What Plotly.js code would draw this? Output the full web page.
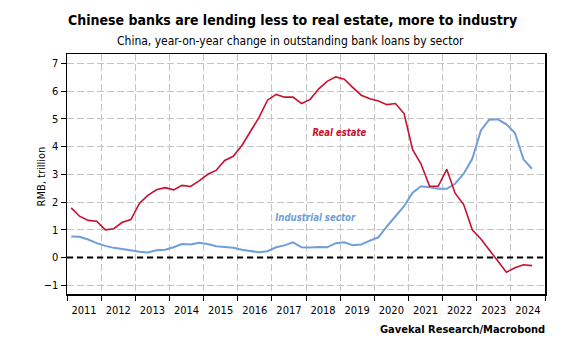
<!DOCTYPE html>
<html>
<head>
<meta charset="utf-8">
<script src="https://cdn.plot.ly/plotly-3.0.1.min.js"></script>
<style>html,body{margin:0;padding:0;background:#fff;}#chart{width:585px;height:360px;}</style>
</head>
<body>
<div id="chart"></div>
<script>
// Quarterly data, Q1 2011 .. Q3 2024 (RMB trillion, y/y change)
const firstYear = 2011;
const realEstate = [1.79,1.49,1.34,1.31,1.00,1.04,1.27,1.37,1.96,2.24,2.44,2.52,2.44,2.60,2.56,2.76,
  3.00,3.14,3.50,3.65,4.04,4.55,5.04,5.67,5.88,5.78,5.78,5.55,5.70,6.07,6.35,6.51,6.43,6.13,5.85,5.72,
  5.64,5.51,5.55,5.19,3.89,3.38,2.57,2.57,3.18,2.32,1.91,1.00,0.67,0.28,-0.11,-0.53,-0.37,-0.26,-0.29];
const industrial = [0.76,0.75,0.65,0.52,0.42,0.35,0.31,0.25,0.21,0.18,0.26,0.28,0.37,0.49,0.47,0.53,
  0.49,0.41,0.39,0.35,0.28,0.23,0.19,0.23,0.37,0.44,0.55,0.37,0.36,0.38,0.37,0.52,0.55,0.44,0.47,0.61,
  0.73,1.12,1.49,1.85,2.34,2.57,2.53,2.48,2.48,2.66,3.02,3.56,4.58,4.97,4.98,4.80,4.49,3.54,3.20];
const midQuarter = ["02-15","05-15","08-15","11-15"];
const dates = realEstate.map((_, i) => (firstYear + Math.floor(i / 4)) + "-" + midQuarter[i % 4]);

const FONT = "DejaVu Sans Condensed, Liberation Sans Narrow, Arial Narrow, sans-serif";
const RED = "#c8102e", BLUE = "#6f9fd8";

const traces = [
  {x: dates, y: industrial, type: "scatter", mode: "lines", line: {color: BLUE, width: 2}, hoverinfo: "none"},
  {x: dates, y: realEstate, type: "scatter", mode: "lines", line: {color: RED, width: 1.6}, hoverinfo: "none"}
];

const PL = 67, PW = 478; // plot left and width in px
const pageX = px => (px - PL) / PW;

const layout = {
  width: 585, height: 360,
  margin: {l: 67, r: 40, t: 54, b: 66},
  paper_bgcolor: "#fff", plot_bgcolor: "#fff",
  showlegend: false,
  font: {family: FONT, color: "#000", size: 11},
  xaxis: {
    type: "date", range: ["2011-01-01", "2025-01-01"],
    dtick: "M12", tick0: "2011-01-01", tickformat: "%Y", ticklabelmode: "period",
    ticks: "outside", ticklen: 5, tickcolor: "#000", tickwidth: 1,
    showline: true, linecolor: "#000", linewidth: 1.5, mirror: true,
    showgrid: true, gridcolor: "#c4c4c4", griddash: "7px,3px", gridwidth: 1,
    zeroline: false, tickfont: {size: 11, family: FONT}, fixedrange: true
  },
  yaxis: {
    range: [-1.313, 7.335], dtick: 1, tick0: 0,
    ticks: "outside", ticklen: 5, tickcolor: "#000",
    showline: true, linecolor: "#000", linewidth: 1.5, mirror: true,
    showgrid: true, gridcolor: "#c4c4c4", griddash: "7px,3px", gridwidth: 1,
    zeroline: false, tickfont: {size: 11, family: FONT}, fixedrange: true
  },
  shapes: [
    {type: "line", xref: "paper", x0: 0, x1: 1, yref: "y", y0: 0, y1: 0,
     line: {color: "#000", width: 2, dash: "6px,4px"}}
  ],
  annotations: [
    {xref: "paper", yref: "paper", x: pageX(292.5), y: 1, yshift: 34, xanchor: "center", yanchor: "middle",
     text: "<b>Chinese banks are lending less to real estate, more to industry</b>", showarrow: false,
     font: {size: 14, family: FONT}},
    {xref: "paper", yref: "paper", x: pageX(290.5), y: 1, yshift: 13, xanchor: "center", yanchor: "middle",
     text: "China, year-on-year change in outstanding bank loans by sector", showarrow: false,
     font: {size: 12, family: FONT}},
    {xref: "paper", yref: "y", x: pageX(339), y: 4.5, xanchor: "center", yanchor: "middle",
     text: "<b><i>Real estate</i></b>", showarrow: false, font: {size: 11, color: RED, family: FONT}},
    {xref: "paper", yref: "y", x: pageX(315.5), y: 1.45, xanchor: "center", yanchor: "middle",
     text: "<b><i>Industrial sector</i></b>", showarrow: false, font: {size: 11, color: BLUE, family: FONT}},
    {xref: "paper", yref: "paper", x: pageX(547), y: 0, yshift: -35, xanchor: "right", yanchor: "middle",
     text: "<b>Gavekal Research/Macrobond</b>", showarrow: false, font: {size: 11, family: FONT}},
    {xref: "paper", yref: "paper", x: pageX(41), y: 0.49, xanchor: "center", yanchor: "middle", textangle: -90,
     text: "RMB, trillion", showarrow: false, font: {size: 11, family: FONT}}
  ]
};

// target widths (px) for condensed look of selected annotations
const targetWidths = {2: 54, 3: 81};

Plotly.newPlot("chart", traces, layout, {displayModeBar: false, staticPlot: true}).then(gd => {
  const anns = gd.querySelectorAll(".annotation");
  Object.keys(targetWidths).forEach(k => {
    const g = anns[+k];
    if (!g) return;
    const t = g.querySelector("text.annotation-text");
    if (!t) return;
    const bb = t.getBBox();
    if (!bb.width) return;
    const s = targetWidths[k] / bb.width;
    const cx = bb.x + bb.width / 2;
    const prev = t.getAttribute("transform") || "";
    t.setAttribute("transform", prev + " translate(" + cx + ",0) scale(" + s + ",1) translate(" + (-cx) + ",0)");
  });
});
</script>
</body>
</html>
